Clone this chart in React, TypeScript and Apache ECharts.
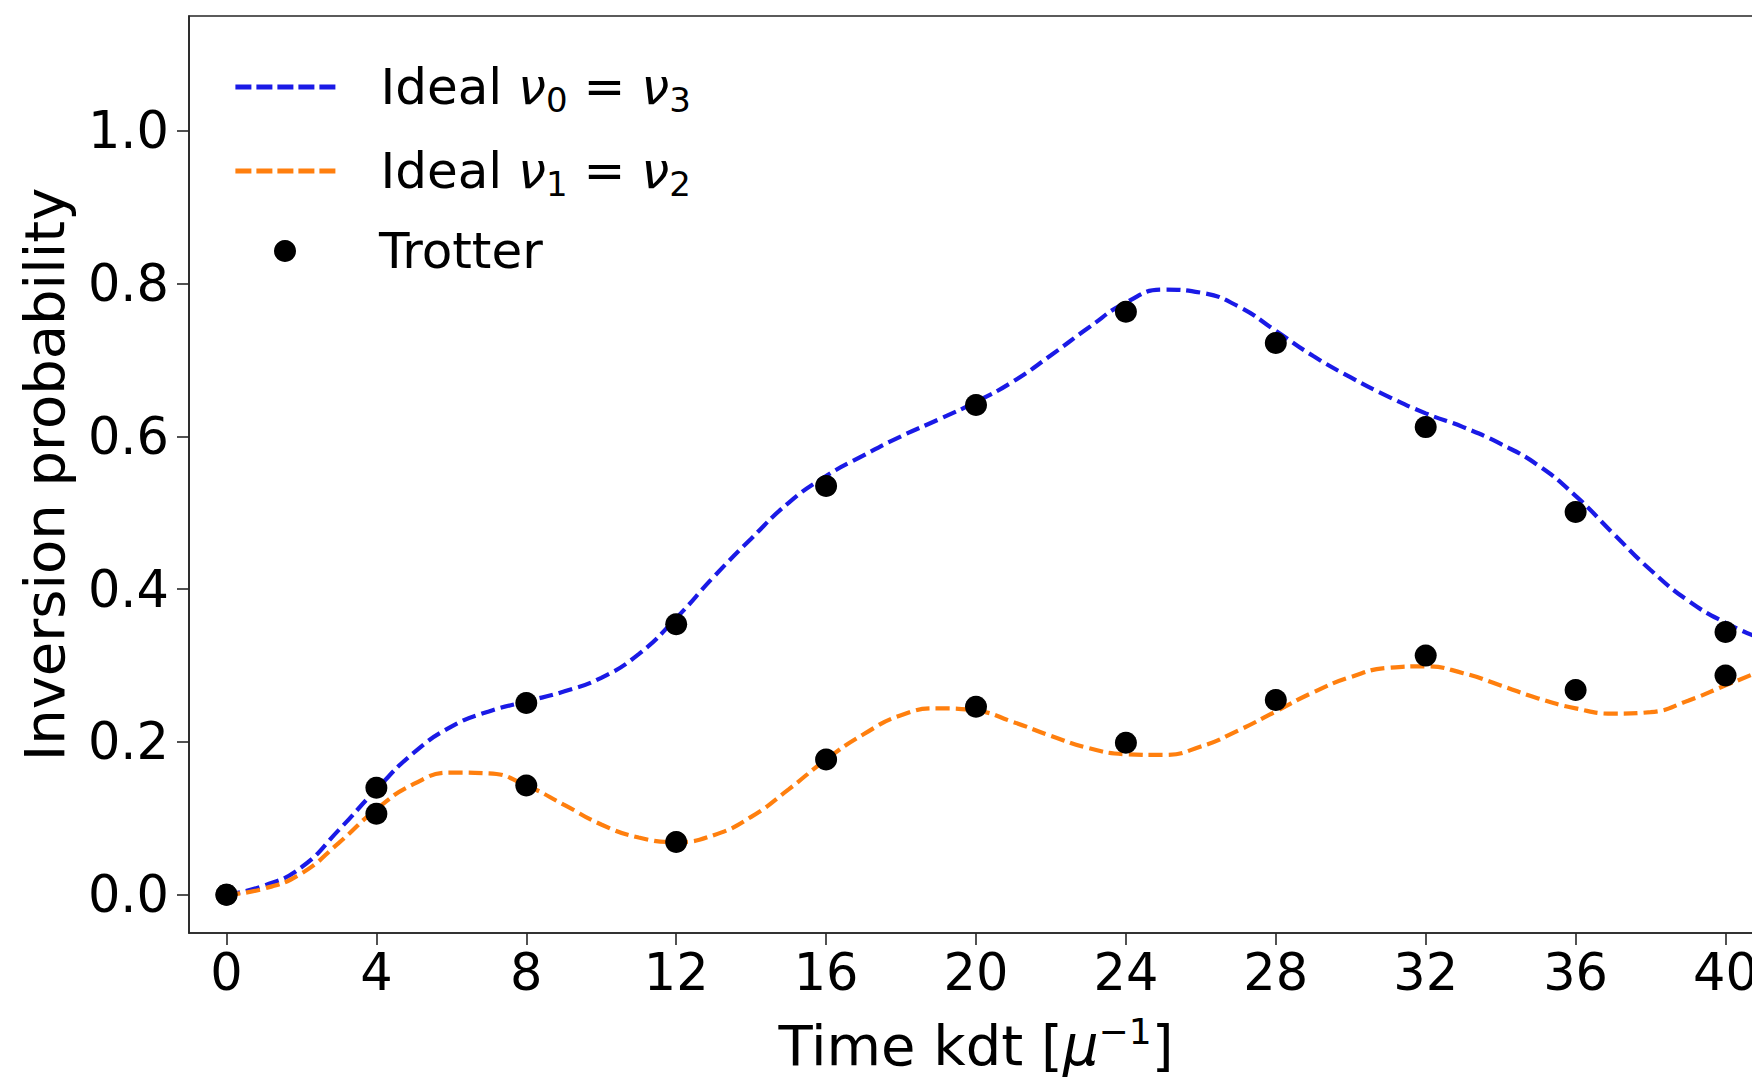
import React, { useEffect, useRef } from "react";
import * as echarts from "echarts";

// ---- data ----
const idealT = [0, 1, 2, 3, 4, 5, 6, 7, 8, 9, 10, 11, 12, 13, 14, 15, 16, 17, 18, 19, 20, 21, 22, 23, 24, 25, 26, 27, 28, 29, 30, 31, 32, 33, 34, 35, 36, 37, 38, 39, 40, 41];
const idealNu03 = [0.0, 0.012, 0.036, 0.085, 0.138, 0.186, 0.22, 0.24, 0.253, 0.266, 0.284, 0.315, 0.362, 0.416, 0.466, 0.513, 0.548, 0.575, 0.6, 0.622, 0.645, 0.672, 0.706, 0.742, 0.775, 0.792, 0.788, 0.77, 0.738, 0.705, 0.677, 0.652, 0.63, 0.612, 0.59, 0.562, 0.522, 0.473, 0.425, 0.385, 0.356, 0.334];
const idealNu12 = [0.0, 0.008, 0.028, 0.068, 0.112, 0.145, 0.16, 0.159, 0.143, 0.118, 0.092, 0.075, 0.069, 0.078, 0.102, 0.138, 0.177, 0.21, 0.235, 0.244, 0.241, 0.226, 0.208, 0.192, 0.184, 0.183, 0.194, 0.215, 0.24, 0.265, 0.285, 0.297, 0.299, 0.29, 0.274, 0.257, 0.244, 0.237, 0.239, 0.254, 0.274, 0.294];
const trotterT = [0, 4, 8, 12, 16, 20, 24, 28, 32, 36, 40];
const trotterNu03 = [0.0, 0.14, 0.251, 0.354, 0.535, 0.641, 0.763, 0.722, 0.612, 0.501, 0.344];
const trotterNu12 = [0.0, 0.106, 0.143, 0.069, 0.177, 0.246, 0.199, 0.255, 0.313, 0.268, 0.287];
const xTicks = [0, 4, 8, 12, 16, 20, 24, 28, 32, 36, 40];
const yTicks = [0.0, 0.2, 0.4, 0.6, 0.8, 1.0];

const NAME_A = "Ideal ν₀ = ν₃";
const NAME_B = "Ideal ν₁ = ν₂";
const NAME_T = "Trotter";

const FONT = "DejaVu Sans";
const FS = 51;
const FS_LEG = 50;
const FS_NAME = 56;

export default function App() {
  const ref = useRef<HTMLDivElement>(null);
  useEffect(() => {
    if (!ref.current) return;
    const chart = echarts.init(ref.current, undefined, { renderer: "svg" });
    const richStyles = {
      sp: { width: 38, fontSize: FS_LEG, lineHeight: 60, fontFamily: FONT },
      it: { fontStyle: "italic", fontSize: FS_LEG, lineHeight: 60, fontFamily: FONT, color: "#000" },
      sub: { fontSize: 34, lineHeight: 34, verticalAlign: "bottom", fontFamily: FONT, color: "#000" },
      n: { fontSize: FS_LEG, lineHeight: 60, fontFamily: FONT, color: "#000" },
    };
    const legendFormat: Record<string, string> = {
      [NAME_A]: "{sp| }{n|Ideal }{it|ν}{sub|0}{n| = }{it|ν}{sub|3}",
      [NAME_B]: "{sp| }{n|Ideal }{it|ν}{sub|1}{n| = }{it|ν}{sub|2}",
      [NAME_T]: "{sp| }{n|Trotter}",
    };
    const legendBase = {
      orient: "vertical",
      left: 233,
      padding: 0,
      itemGap: 0,
      itemWidth: 102,
      itemHeight: 22,
      selectedMode: false,
      formatter: (n: string) => legendFormat[n],
      textStyle: { fontFamily: FONT, fontSize: FS_LEG, lineHeight: 60, color: "#000", rich: richStyles },
    };
    const trotterData = trotterT
      .map((t, i) => [t, trotterNu03[i]])
      .concat(trotterT.map((t, i) => [t, trotterNu12[i]]));

    chart.setOption({
      animation: false,
      backgroundColor: "#ffffff",
      textStyle: { fontFamily: FONT },
      grid: {
        left: 189,
        top: 16,
        right: 0,
        bottom: 150,
        show: true,
        borderColor: "#262626",
        borderWidth: 1.6,
        backgroundColor: "transparent",
      },
      legend: [
        {
          ...legendBase,
          top: 57,
          data: [NAME_A],
          itemStyle: { opacity: 0 },
          lineStyle: { width: 4.8, type: [16, 5] },
        },
        {
          ...legendBase,
          top: 141,
          data: [NAME_B],
          itemStyle: { opacity: 0 },
          lineStyle: { width: 4.8, type: [16, 5] },
        },
        {
          ...legendBase,
          left: 274,
          top: 221,
          data: [{ name: NAME_T, icon: "circle" }],
          itemStyle: { opacity: 1, color: "#000" },
        },
      ],
      xAxis: {
        type: "value",
        min: -1,
        max: 41,
        name: "Time kdt [{it|μ}{sup|−1}]",
        nameLocation: "middle",
        nameGap: 80,
        nameTextStyle: {
          fontFamily: FONT,
          fontSize: FS_NAME,
          lineHeight: 64,
          color: "#000",
          rich: {
            it: { fontStyle: "italic", fontSize: FS_NAME, lineHeight: 64, fontFamily: FONT, color: "#000" },
            sup: { fontSize: 36, lineHeight: 36, verticalAlign: "top", fontFamily: FONT, color: "#000" },
          },
        },
        axisLine: { show: true, onZero: false, lineStyle: { color: "#262626", width: 1.6 } },
        axisTick: { show: true, length: 12, customValues: xTicks, lineStyle: { color: "#262626", width: 1.6 } },
        axisLabel: {
          customValues: xTicks,
          margin: 14,
          fontFamily: FONT,
          fontSize: FS,
          color: "#000",
          formatter: (v: number) => String(v),
        },
        splitLine: { show: false },
      },
      yAxis: {
        type: "value",
        min: -0.05,
        max: 1.15,
        name: "Inversion probability",
        nameLocation: "middle",
        nameGap: 117,
        nameTextStyle: { fontFamily: FONT, fontSize: FS_NAME, color: "#000" },
        axisLine: { show: true, onZero: false, lineStyle: { color: "#262626", width: 1.6 } },
        axisTick: { show: true, length: 12, customValues: yTicks, lineStyle: { color: "#262626", width: 1.6 } },
        axisLabel: {
          customValues: yTicks,
          margin: 20,
          fontFamily: FONT,
          fontSize: FS,
          color: "#000",
          formatter: (v: number) => v.toFixed(1),
        },
        splitLine: { show: false },
      },
      series: [
        {
          name: NAME_A,
          type: "line",
          data: idealT.map((t, i) => [t, idealNu03[i]]),
          smooth: 0.5,
          symbol: "none",
          showSymbol: false,
          lineStyle: { color: "#1a1ae6", width: 4.2, type: [14, 6] },
          itemStyle: { color: "#1a1ae6" },
          z: 2,
        },
        {
          name: NAME_B,
          type: "line",
          data: idealT.map((t, i) => [t, idealNu12[i]]),
          smooth: 0.5,
          symbol: "none",
          showSymbol: false,
          lineStyle: { color: "#ff7f0e", width: 4.2, type: [14, 6] },
          itemStyle: { color: "#ff7f0e" },
          z: 2,
        },
        {
          name: NAME_T,
          type: "scatter",
          data: trotterData,
          symbol: "circle",
          symbolSize: 22,
          itemStyle: { color: "#000000", opacity: 1 },
          z: 3,
        },
      ],
    });
    return () => chart.dispose();
  }, []);
  return (
    <div
      style={{ position: "fixed", left: 0, top: 0, width: 1752, height: 1083, overflow: "hidden", background: "#fff" }}
    >
      <div ref={ref} style={{ width: 1763, height: 1083 }} />
    </div>
  );
}
